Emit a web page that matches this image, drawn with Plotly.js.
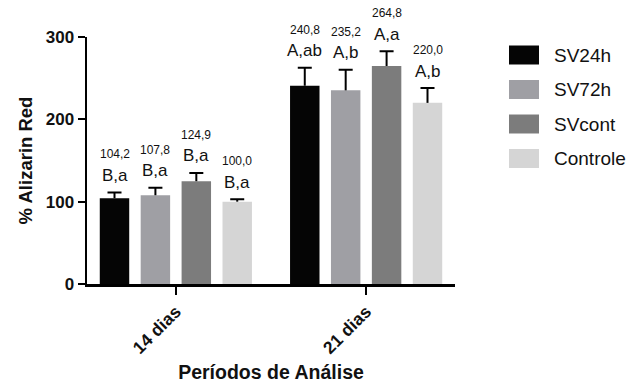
<!DOCTYPE html>
<html>
<head>
<meta charset="utf-8">
<script src="https://cdn.plot.ly/plotly-3.0.1.min.js"></script>
<style>html,body{margin:0;padding:0;background:#fff;}#chart{width:638px;height:383px;}</style>
</head>
<body>
<div id="chart"></div>
<script>
// ---- data ----
const categories = ['14 dias', '21 dias'];
const seriesNames = ['SV24h', 'SV72h', 'SVcont', 'Controle'];
const sv24h = [104.2, 240.8];
const sv72h = [107.8, 235.2];
const svcont = [124.9, 264.8];
const controle = [100.0, 220.0];
const sv24hErr = [7, 22];
const sv72hErr = [9, 25];
const svcontErr = [10, 18];
const controleErr = [3, 18];
const sv24hLetters = ['B,a', 'A,ab'];
const sv72hLetters = ['B,a', 'A,b'];
const svcontLetters = ['B,a', 'A,a'];
const controleLetters = ['B,a', 'A,b'];
const yTicks = [0, 100, 200, 300];

// ---- style ----
const colors = ['#050505', '#9f9fa4', '#7c7c7c', '#d5d5d5'];
const FONT = 'Liberation Sans, Arial, Helvetica, sans-serif';
const W = 638, H = 383;
const M = {l: 87, r: 183, t: 37, b: 99};
const BARGAP = 0.14, BARGROUPGAP = 0.28;

const values = [sv24h, sv72h, svcont, controle];
const errs = [sv24hErr, sv72hErr, svcontErr, controleErr];
const letters = [sv24hLetters, sv72hLetters, svcontLetters, controleLetters];

// main bars with the vertical (upper) error line, no caps
const traces = seriesNames.map((name, i) => ({
  type: 'bar',
  name: name,
  x: categories,
  y: values[i],
  offsetgroup: 'g' + i,
  marker: {color: colors[i], line: {width: 0}},
  error_y: {type: 'data', symmetric: false, array: errs[i], arrayminus: categories.map(() => 0),
            color: '#000', thickness: 2, width: 0},
  showlegend: false,
  hoverinfo: 'skip'
}));
// caps at the top of each error bar (invisible bars in the same slot)
seriesNames.forEach((name, i) => {
  traces.push({
    type: 'bar',
    name: name + ' cap',
    x: categories,
    y: values[i].map((v, k) => v + errs[i][k]),
    offsetgroup: 'g' + i,
    marker: {color: 'rgba(0,0,0,0)', line: {width: 0}},
    error_y: {type: 'data', symmetric: true, array: categories.map(() => 0),
              color: '#000', thickness: 2, width: 7},
    showlegend: false,
    hoverinfo: 'skip'
  });
});

const fmt = v => v.toFixed(1).replace('.', ',');
const slot = (1 - BARGAP) / seriesNames.length;
const annotations = [];
seriesNames.forEach((name, i) => {
  categories.forEach((c, j) => {
    const xpos = j + (i - (seriesNames.length - 1) / 2) * slot;
    const top = values[i][j] + errs[i][j];
    annotations.push({x: xpos, y: top, xref: 'x', yref: 'y', text: letters[i][j], showarrow: false,
      yanchor: 'middle', yshift: 17, font: {family: FONT, size: 17, color: '#111'}});
    annotations.push({x: xpos, y: top, xref: 'x', yref: 'y', text: fmt(values[i][j]), showarrow: false,
      yanchor: 'middle', yshift: 38, font: {family: FONT, size: 12, color: '#111'}});
  });
});

// custom legend (paper coords computed from pixel positions)
const pw = W - M.l - M.r, ph = H - M.t - M.b;
const px = x => (x - M.l) / pw;
const py = y => (H - M.b - y) / ph;
const shapes = [];
seriesNames.forEach((name, i) => {
  const cy = 55 + i * 34.5;
  shapes.push({type: 'rect', xref: 'paper', yref: 'paper', x0: px(509), x1: px(539), y0: py(cy + 9.5), y1: py(cy - 9.5),
    fillcolor: colors[i], line: {width: 0}});
  annotations.push({xref: 'paper', yref: 'paper', x: px(552), y: py(cy), xanchor: 'left', yanchor: 'middle',
    text: name, showarrow: false, font: {family: FONT, size: 19, color: '#111'}});
});

const layout = {
  width: W, height: H,
  margin: M,
  paper_bgcolor: '#fff', plot_bgcolor: '#fff',
  barmode: 'group', bargap: BARGAP, bargroupgap: BARGROUPGAP,
  font: {family: FONT, color: '#111'},
  xaxis: {
    type: 'category', range: [-0.467, 1.467], showline: true, linecolor: '#000', linewidth: 2.5,
    ticks: 'outside', ticklen: 8, tickwidth: 2, tickcolor: '#000', tickangle: -45,
    tickfont: {family: FONT, size: 17.5, weight: 'bold', color: '#111'},
    showgrid: false, zeroline: false,
    title: {text: 'Períodos de Análise', font: {family: FONT, size: 19.5, weight: 'bold', color: '#111'}, standoff: 12}
  },
  yaxis: {
    range: [0, 300], tickvals: yTicks, ticktext: yTicks.map(String), showline: true, linecolor: '#000', linewidth: 2.5,
    ticks: 'outside', ticklen: 7, tickwidth: 2, tickcolor: '#000',
    tickfont: {family: FONT, size: 17, weight: 'bold', color: '#111'},
    showgrid: false, zeroline: false,
    title: {text: '% Alizarin Red', font: {family: FONT, size: 18.5, weight: 'bold', color: '#111'}, standoff: 8}
  },
  annotations: annotations,
  shapes: shapes,
  showlegend: false
};

Plotly.newPlot('chart', traces, layout, {displayModeBar: false, staticPlot: true});
</script>
</body>
</html>
